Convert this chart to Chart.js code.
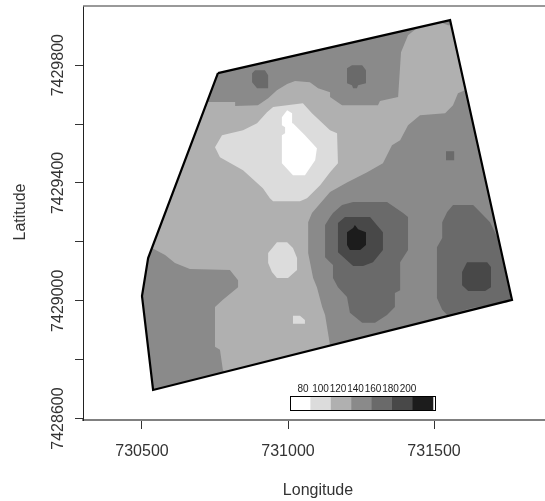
<!DOCTYPE html>
<html lang="en">
<head>
  <meta charset="UTF-8">
  <title>Map</title>
  <script src="https://cdn.jsdelivr.net/npm/chart.js"></script>
  <style>
    html, body { margin: 0; padding: 0; background: #fff; }
    canvas { display: block; }
  </style>
</head>
<body>
  <canvas id="mapa" width="545" height="501"></canvas>
  <script>
    const xTicks = [730500, 731000, 731500];
    const yTicks = [7428600, 7428800, 7429000, 7429200, 7429400, 7429600, 7429800];
    const yLabelled = [7428600, 7429000, 7429400, 7429800];
    const legendLabels = ['80', '100', '120', '140', '160', '180', '200'];

    const gray100 = '#ffffff', gray120 = '#dcdcdc', gray140 = '#b0b0b0', gray160 = '#8a8a8a';
    const gray180 = '#6a6a6a', gray200 = '#484848', gray220 = '#1c1c1c';
    const legendColors = [gray100, gray120, gray140, gray160, gray180, gray200, gray220];

    // field boundary, [longitude, latitude]
    const field = [[730760,7429773],[731555,7429953],[731767,7429003],[730538,7428697],[730500,7429016],[730521,7429145],[730760,7429773]];

    // contour regions
    const lightBand = [[730723,7429675],[730819,7429675],[730819,7429661],[730897,7429664],[730932,7429688],[730962,7429715],[730997,7429736],[731024,7429746],[731075,7429742],[731103,7429722],[731144,7429708],[731144,7429692],[731185,7429664],[731308,7429664],[731315,7429678],[731377,7429692],[731387,7429844],[731411,7429902],[731445,7429929],[731521,7429946],[731548,7429936],[731558,7429936],[731606,7429715],[731582,7429705],[731565,7429664],[731538,7429637],[731452,7429630],[731411,7429596],[731384,7429545],[731356,7429528],[731325,7429467],[731271,7429436],[731202,7429402],[731144,7429369],[731082,7429298],[731069,7429267],[731069,7429162],[731086,7429077],[731099,7429046],[731117,7428979],[731127,7428952],[731144,7428848],[730784,7428758],[730777,7428765],[730767,7428834],[730750,7428844],[730750,7428979],[730777,7429003],[730829,7429046],[730829,7429070],[730801,7429104],[730664,7429108],[730613,7429128],[730579,7429155],[730534,7429179],[730723,7429675]];
    const paleBlob = [[730949,7429658],[731051,7429671],[731082,7429637],[731144,7429579],[731168,7429569],[731171,7429467],[731144,7429436],[731110,7429392],[731065,7429348],[731041,7429338],[730949,7429338],[730938,7429348],[730914,7429382],[730846,7429443],[730767,7429487],[730750,7429521],[730774,7429562],[730846,7429579],[730894,7429603],[730928,7429640]];
    const paleSpot = [[730932,7429162],[730962,7429199],[730997,7429199],[731017,7429179],[731031,7429145],[731031,7429104],[731000,7429077],[730962,7429077],[730945,7429098],[730932,7429128]];
    const paleSliver = [[731017,7428949],[731041,7428949],[731058,7428935],[731058,7428922],[731017,7428922]];
    const whiteBlob = [[730997,7429647],[730979,7429623],[730979,7429596],[730990,7429589],[730990,7429569],[730979,7429562],[730979,7429467],[731017,7429426],[731058,7429426],[731093,7429477],[731099,7429518],[731058,7429562],[731017,7429603],[731014,7429637]];
    const darkTopLeft = [[730877,7429773],[730887,7429783],[730921,7429783],[730932,7429766],[730932,7429722],[730894,7429722],[730877,7429742]];
    const darkTopRight = [[731202,7429790],[731219,7429800],[731254,7429800],[731267,7429783],[731267,7429739],[731240,7429732],[731236,7429722],[731223,7429722],[731219,7429732],[731202,7429739]];
    const darkSquare = [[731541,7429508],[731569,7429508],[731569,7429477],[731541,7429477]];
    const centreLobe = [[731223,7429335],[731339,7429335],[731394,7429298],[731411,7429284],[731411,7429172],[731384,7429131],[731384,7429036],[731366,7429026],[731366,7428979],[731339,7428952],[731298,7428925],[731254,7428925],[731212,7428959],[731202,7429013],[731171,7429046],[731154,7429077],[731154,7429121],[731144,7429131],[731127,7429148],[731127,7429257],[731144,7429284],[731154,7429298],[731185,7429325]];
    const rightLobe = [[731565,7429325],[731634,7429325],[731651,7429308],[731692,7429267],[731718,7429213],[731763,7429010],[731754,7428996],[731634,7428976],[731545,7428952],[731528,7428969],[731510,7429009],[731510,7429182],[731528,7429213],[731528,7429267],[731545,7429301]];
    const centreRing = [[731171,7429264],[731195,7429284],[731281,7429284],[731325,7429233],[731325,7429172],[731291,7429131],[731257,7429118],[731223,7429118],[731171,7429165]];
    const rightSpot = [[731613,7429131],[731682,7429131],[731695,7429115],[731695,7429046],[731675,7429033],[731617,7429033],[731596,7429053],[731596,7429098]];
    const centreCore = [[731202,7429233],[731223,7429247],[731229,7429257],[731240,7429243],[731267,7429233],[731267,7429189],[731247,7429172],[731212,7429172],[731202,7429189]];

    // bottom layer first
    const regions = [
      [field, gray160],
      [lightBand, gray140],
      [paleBlob, gray120],
      [paleSpot, gray120],
      [paleSliver, gray120],
      [whiteBlob, gray100],
      [darkTopLeft, gray180],
      [darkTopRight, gray180],
      [darkSquare, gray180],
      [centreLobe, gray180],
      [rightLobe, gray180],
      [centreRing, gray200],
      [rightSpot, gray200],
      [centreCore, gray220]
    ];

    const datasets = regions.map((r, i) => ({
      data: r[0].map(p => ({ x: p[0], y: p[1] })),
      showLine: true,
      fill: 'shape',
      backgroundColor: r[1],
      borderWidth: 0,
      pointRadius: 0,
      order: regions.length + 1 - i
    }));
    datasets.push({
      data: field.map(p => ({ x: p[0], y: p[1] })),
      showLine: true,
      fill: false,
      borderColor: '#000',
      borderWidth: 2.2,
      pointRadius: 0,
      order: 0
    });

    // moldura de cima, titulos e legenda de cores
    const extras = {
      id: 'extras',
      afterDraw(chart) {
        const c = chart.ctx, a = chart.chartArea;
        c.save();
        c.strokeStyle = '#777';
        c.lineWidth = 1.5;
        c.beginPath();
        c.moveTo(a.left, a.top);
        c.lineTo(a.right, a.top);
        c.stroke();

        c.fillStyle = '#333';
        c.font = '16px "Liberation Sans"';
        c.textAlign = 'center';
        c.textBaseline = 'alphabetic';
        c.fillText('Longitude', 318, 495);
        c.translate(25, 212);
        c.rotate(-Math.PI / 2);
        c.fillText('Latitude', 0, 0);
        c.setTransform(1, 0, 0, 1, 0, 0);

        const x0 = 290, w = 20.4, top = 396, h = 14;
        legendColors.forEach((col, i) => {
          c.fillStyle = col;
          c.fillRect(x0 + i * w, top, w + 0.5, h);
        });
        c.strokeStyle = '#000';
        c.lineWidth = 1;
        c.strokeRect(x0 + 0.5, top + 0.5, 145, h);
        c.fillStyle = '#222';
        c.font = '10px "Liberation Sans"';
        c.textBaseline = 'bottom';
        legendLabels.forEach((t, i) => {
          c.fillText(t, 303 + i * 17.5, top - 2);
        });
        c.restore();
      }
    };

    new Chart(document.getElementById('mapa'), {
      type: 'scatter',
      data: { datasets },
      plugins: [extras],
      options: {
        responsive: false,
        animation: false,
        layout: { padding: { top: 6 } },
        plugins: { legend: { display: false }, tooltip: { enabled: false } },
        scales: {
          x: {
            type: 'linear',
            min: 730298,
            max: 731880,
            afterBuildTicks: s => { s.ticks = xTicks.map(v => ({ value: v })); },
            afterFit: s => { s.height = 81; },
            border: { color: '#808080', width: 2 },
            grid: { drawOnChartArea: false, tickLength: 9, tickColor: '#333' },
            ticks: { color: '#333', padding: 13, maxRotation: 0, callback: v => String(v), font: { family: 'Liberation Sans', size: 16 } }
          },
          y: {
            type: 'linear',
            min: 7428595,
            max: 7430001,
            afterBuildTicks: s => { s.ticks = yTicks.map(v => ({ value: v })); },
            afterCalculateLabelRotation: s => { s.labelRotation = 90; },
            afterFit: s => { s.width = 83; },
            border: { color: '#222', width: 1 },
            grid: { drawOnChartArea: false, tickLength: 8, tickColor: '#333' },
            ticks: {
              color: '#333',
              padding: -15,
              crossAlign: 'center',
              callback: v => yLabelled.includes(v) ? String(v) : '',
              autoSkip: false,
              font: { family: 'Liberation Sans', size: 16 }
            }
          }
        }
      }
    });
  </script>
</body>
</html>
